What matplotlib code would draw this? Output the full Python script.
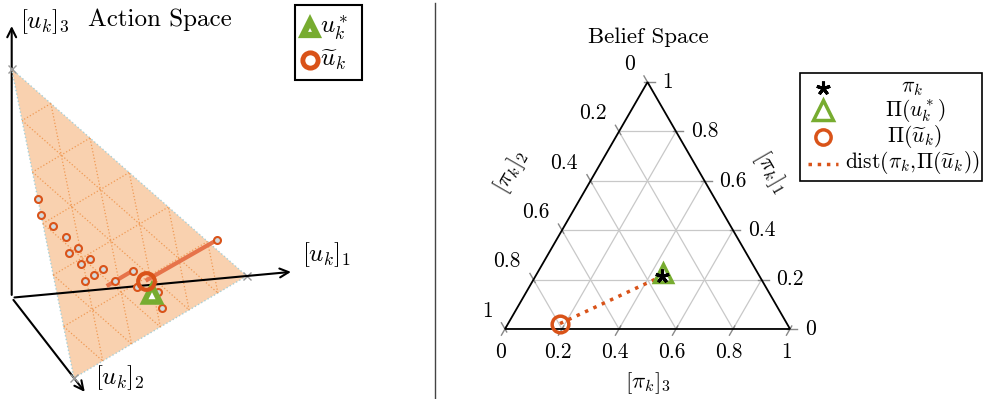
import numpy as np
import matplotlib.pyplot as plt
from matplotlib.patches import Polygon, Rectangle

plt.rcParams['font.family'] = 'cmr10'
plt.rcParams['mathtext.fontset'] = 'cm'
plt.rcParams['axes.unicode_minus'] = False

ORANGE = '#D95319'
GREEN = '#77AC30'

# action space: sampled actions on the simplex (u1, u2, u3)
samp_u1 = [0.0, 0.0, 0.05, 0.104, 0.156, 0.103, 0.207, 0.155, 0.261, 0.209, 0.157, 0.314, 0.417, 0.42, 0.526, 0.527]
samp_u2 = [0.421, 0.474, 0.475, 0.474, 0.475, 0.528, 0.476, 0.527, 0.474, 0.528, 0.58, 0.475, 0.373, 0.423, 0.368, 0.42]
samp_u3 = [0.579, 0.526, 0.475, 0.422, 0.369, 0.369, 0.317, 0.318, 0.265, 0.263, 0.263, 0.211, 0.21, 0.157, 0.106, 0.053]

# two trajectory segments (start, end) in (u1, u2, u3)
seg_a = [[0.265, 0.525, 0.21], [0.417, 0.373, 0.21]]
seg_b = [[0.472, 0.369, 0.159], [0.885, -0.04, 0.155]]

u_star = [0.489, 0.401, 0.11]
u_tilde = [0.472, 0.369, 0.159]

# belief space points (pi1, pi2, pi3)
pi_k = [0.215, 0.34, 0.445]
pi_ustar = [0.228, 0.331, 0.441]
pi_utilde = [0.022, 0.796, 0.182]

tern_ticks = [0, 0.2, 0.4, 0.6, 0.8, 1]
tick_labels = ['0', '0.2', '0.4', '0.6', '0.8', '1']
grid_n = 6  # simplex grid divisions in action space

# oblique view of the 3d axes (left panel units)
O = np.array([11.7, 101.3])
E = np.array([[235.0, 21.7], [62.3, -80.3], [0.0, 228.7]])

STAR = (5, 2, 0)  # five-armed asterisk


def proj3(u):
    u = np.atleast_2d(np.asarray(u, float))
    return O + u @ E


def tern(p):
    p = np.atleast_2d(np.asarray(p, float))
    return np.column_stack([p[:, 2] + p[:, 0] / 2, p[:, 0] * np.sqrt(3) / 2])


fig = plt.figure(figsize=(9.83, 3.99), dpi=100)

# ---------------- left: action space ----------------
axL = fig.add_axes([0, 0, 433 / 983, 1])
axL.set_xlim(0, 433)
axL.set_ylim(0, 399)
axL.axis('off')

arrow = dict(arrowstyle='->', lw=1.5, color='black', mutation_scale=16)
for i in range(3):
    d = np.zeros(3)
    d[i] = 1.2
    tip = proj3(d)[0]
    axL.annotate('', xy=tip, xytext=O, arrowprops=arrow, zorder=1 if i != 0 else 4)

verts = proj3(np.eye(3))
axL.add_patch(Polygon(verts, closed=True, fc='#F4A460', alpha=0.5, ec='none', zorder=2))
axL.plot(*proj3(np.vstack([np.eye(3), np.eye(3)[:1]])).T, ls=':', color='#a9cfd6', lw=1, zorder=3)
axL.plot(verts[:, 0], verts[:, 1], 'x', color='#999999', ms=6, mew=1, zorder=3)

for i in range(3):
    j, k = (i + 1) % 3, (i + 2) % 3
    for m in range(1, grid_n):
        v = m / grid_n
        a = np.zeros(3); a[i] = v; a[j] = 1 - v
        b = np.zeros(3); b[i] = v; b[k] = 1 - v
        pts = proj3([a, b])
        axL.plot(pts[:, 0], pts[:, 1], ls=':', color='#F09A55', lw=0.9, zorder=3)

for seg in (seg_a, seg_b):
    pts = proj3(seg)
    axL.plot(pts[:, 0], pts[:, 1], color='#E6734A', lw=3, solid_capstyle='butt', zorder=5)

samp = proj3(np.column_stack([samp_u1, samp_u2, samp_u3]))
axL.plot(samp[:, 0], samp[:, 1], 'o', ms=5, mfc='#d4dadc', mec=ORANGE, mew=1.5, zorder=6)
axL.plot(*proj3(seg_b[1]).T, 'o', ms=5, mfc='#d4dadc', mec=ORANGE, mew=1.5, zorder=6)

us = proj3(u_star)[0]
axL.plot(us[0], us[1], '^', ms=11, mfc='white', mec=GREEN, mew=4, zorder=7)
ut = proj3(u_tilde)[0]
axL.plot(ut[0], ut[1], 'o', ms=12, mfc='none', mec=ORANGE, mew=3, zorder=7)

axL.text(45, 377, r'$[u_k]_3$', fontsize=18, ha='center', va='center')
axL.text(160, 379, 'Action Space', fontsize=18, ha='center', va='center')
axL.text(327, 144, r'$[u_k]_1$', fontsize=18, ha='center', va='center')
axL.text(120, 21, r'$[u_k]_2$', fontsize=18, ha='center', va='center')

# ---------------- right: belief space ----------------
axR = fig.add_axes([440 / 983, 0, 543 / 983, 1])
axR.set_xlim(-0.228, 1.677)
axR.set_ylim(-0.2456, 1.154)
axR.axis('off')

h = np.sqrt(3) / 2
for v in tern_ticks[1:-1]:
    for i in range(3):
        j, k = (i + 1) % 3, (i + 2) % 3
        a = np.zeros(3); a[i] = v; a[j] = 1 - v
        b = np.zeros(3); b[i] = v; b[k] = 1 - v
        pts = tern([a, b])
        axR.plot(pts[:, 0], pts[:, 1], color='#c8c8c8', lw=0.9, zorder=1)

tri = tern(np.eye(3))
axR.add_patch(Polygon(tri, closed=True, fill=False, ec='black', lw=1.3, zorder=3))

dirs = {'b': np.array([-0.5, -h]), 'l': np.array([-0.5, h]), 'r': np.array([1.0, 0.0])}
for v, lab in zip(tern_ticks, tick_labels):
    pb = tern([0, 1 - v, v])[0]
    pl = tern([1 - v, v, 0])[0]
    pr = tern([v, 0, 1 - v])[0]
    for p, key in ((pb, 'b'), (pl, 'l'), (pr, 'r')):
        d = dirs[key]
        seg = np.array([p - 0.012 * d, p + 0.025 * d])
        axR.plot(seg[:, 0], seg[:, 1], color='#888888', lw=1, zorder=2)
    axR.text(pb[0] - 0.014, pb[1] - 0.083, lab, fontsize=15.5, ha='center', va='center')
    axR.text(pl[0] - 0.044, pl[1] + 0.063, lab, fontsize=15.5, ha='right', va='center')
    axR.text(pr[0] + 0.052, pr[1], lab, fontsize=15.5, ha='left', va='center')

p_pi = tern(pi_k)[0]
p_us = tern(pi_ustar)[0]
p_ut = tern(pi_utilde)[0]
axR.plot([p_ut[0], p_pi[0]], [p_ut[1], p_pi[1]], ls=':', color=ORANGE, lw=2.5, zorder=4)
axR.plot(p_us[0], p_us[1], '^', ms=13, mfc='none', mec=GREEN, mew=2.5, zorder=5)
axR.plot(p_pi[0], p_pi[1], marker=STAR, ms=10, color='black', mew=2.2, zorder=6)
axR.plot(p_ut[0], p_ut[1], 'o', ms=12, mfc='none', mec=ORANGE, mew=2.5, zorder=5)

axR.text(0.502, 1.0246, 'Belief Space', fontsize=16.5, ha='center', va='center')
axR.text(0.502, -0.189, r'$[\pi_k]_3$', fontsize=16.5, ha='center', va='center')
axR.text(0.0228, 0.5526, r'$[\pi_k]_2$', fontsize=16.5, ha='center', va='center', rotation=60)
axR.text(0.93, 0.551, r'$[\pi_k]_1$', fontsize=16.5, ha='center', va='center', rotation=-60)

# ---------------- overlay: divider and legends ----------------
axO = fig.add_axes([0, 0, 1, 1], zorder=10)
axO.set_xlim(0, 983)
axO.set_ylim(399, 0)
axO.axis('off')
axO.patch.set_visible(False)

axO.plot([434.5, 434.5], [3, 399], color='#444444', lw=1)

axO.add_patch(Rectangle((295, 5), 67, 75, fill=False, ec='black', lw=1.5))
axO.plot(310, 28, '^', ms=10, mfc='white', mec=GREEN, mew=4.5)
axO.plot(310, 60, 'o', ms=11, mfc='white', mec=ORANGE, mew=3.5)
axO.text(320, 28, r'$u_k^*$', fontsize=18, ha='left', va='center')
axO.text(320, 60, r'$\widetilde{u}_k$', fontsize=18, ha='left', va='center')

axO.add_patch(Rectangle((800, 73), 182, 108, fill=False, ec='black', lw=1.2))
axO.plot(823, 88, marker=STAR, ms=10, color='black', mew=2.2)
axO.plot(823, 110, '^', ms=14, mfc='none', mec=GREEN, mew=2.5)
axO.plot(823, 137, 'o', ms=11, mfc='none', mec=ORANGE, mew=2.5)
axO.plot([808, 838], [164, 164], ls=':', color=ORANGE, lw=2.5)
axO.text(912, 88, r'$\pi_k$', fontsize=15.5, ha='center', va='center')
axO.text(915, 111, r'$\Pi(u_k^*)$', fontsize=15.5, ha='center', va='center')
axO.text(915, 137, r'$\Pi(\widetilde{u}_k)$', fontsize=15.5, ha='center', va='center')
axO.text(912, 162, r'$\mathrm{dist}(\pi_k,\!\Pi(\widetilde{u}_k))$', fontsize=15.5, ha='center', va='center')

fig.savefig('out.png', dpi=100)
